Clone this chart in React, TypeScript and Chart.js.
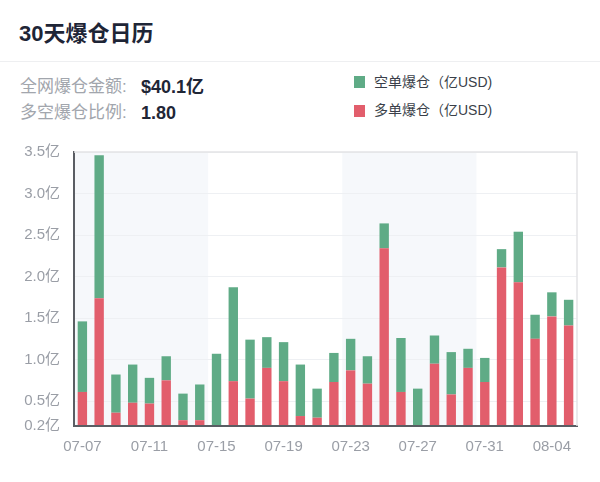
import React, { useEffect, useRef } from 'react';
import { Chart, registerables } from 'chart.js';

Chart.register(...registerables);

const FONT = "'Liberation Sans', 'Noto Sans CJK SC', sans-serif";

const dates = [
  '07-07', '07-08', '07-09', '07-10', '07-11', '07-12', '07-13', '07-14',
  '07-15', '07-16', '07-17', '07-18', '07-19', '07-20', '07-21', '07-22',
  '07-23', '07-24', '07-25', '07-26', '07-27', '07-28', '07-29', '07-30',
  '07-31', '08-01', '08-02', '08-03', '08-04', '08-05',
];

// 多单爆仓 (亿USD) - red, bottom of stack
const longLiq = [
  0.61, 1.74, 0.36, 0.48, 0.47, 0.75, 0.27, 0.27,
  0.1, 0.74, 0.53, 0.90, 0.74, 0.32, 0.30, 0.73,
  0.87, 0.71, 2.34, 0.61, 0.1, 0.95, 0.58, 0.90,
  0.73, 2.11, 1.93, 1.25, 1.52, 1.41,
];

// 空单爆仓 (亿USD) - green, top of stack
const shortLiq = [
  0.85, 1.72, 0.46, 0.46, 0.31, 0.29, 0.32, 0.43,
  0.97, 1.13, 0.71, 0.37, 0.47, 0.62, 0.35, 0.35,
  0.38, 0.33, 0.30, 0.65, 0.55, 0.34, 0.51, 0.23,
  0.29, 0.22, 0.61, 0.29, 0.29, 0.31,
];

const yTicks = [0.2, 0.5, 1.0, 1.5, 2.0, 2.5, 3.0, 3.5];
const shadedRanges: [number, number][] = [[0, 7], [16, 23]];

const GREEN = '#5fab86';
const RED = '#e25e6c';

const frame = {
  id: 'frame',
  beforeDraw(chart: any) {
    const { ctx, chartArea } = chart;
    const x = chart.scales.x;
    const half = (x.getPixelForValue(1) - x.getPixelForValue(0)) / 2;
    ctx.save();
    ctx.fillStyle = '#f6f8fb';
    for (const [a, b] of shadedRanges) {
      const l = x.getPixelForValue(a) - half;
      const r = x.getPixelForValue(b) + half;
      ctx.fillRect(l, chartArea.top, r - l, chartArea.bottom - chartArea.top);
    }
    ctx.restore();
  },
  afterDraw(chart: any) {
    const { ctx, chartArea } = chart;
    ctx.save();
    ctx.strokeStyle = '#e3e4e6';
    ctx.lineWidth = 1.5;
    ctx.beginPath();
    ctx.moveTo(chartArea.left, chartArea.top);
    ctx.lineTo(chartArea.right, chartArea.top);
    ctx.lineTo(chartArea.right, chartArea.bottom);
    ctx.stroke();
    ctx.restore();
  },
};

export default function App() {
  const ref = useRef<HTMLCanvasElement>(null);

  useEffect(() => {
    Chart.defaults.font.family = FONT;
    const chart = new Chart(ref.current!, {
      type: 'bar',
      data: {
        labels: dates,
        datasets: [
          {
            label: '多单爆仓（亿USD)',
            data: longLiq,
            backgroundColor: RED,
            barPercentage: 0.56,
            categoryPercentage: 1,
            clip: 0,
          } as any,
          {
            label: '空单爆仓（亿USD)',
            data: shortLiq,
            backgroundColor: GREEN,
            barPercentage: 0.56,
            categoryPercentage: 1,
            clip: 0,
          } as any,
        ],
      },
      options: {
        responsive: false,
        animation: false,
        layout: { padding: { top: 0, right: 23, bottom: 0, left: 0 } },
        plugins: { legend: { display: false }, tooltip: { enabled: false } },
        scales: {
          x: {
            stacked: true,
            grid: { display: false, drawTicks: false },
            border: { display: true, color: '#5a5d63', width: 2, z: 1 },
            ticks: {
              autoSkip: false,
              maxRotation: 0,
              padding: 12,
              color: '#9a9ea6',
              font: { size: 15 },
              callback: (_v: any, i: number) => (i % 4 === 0 ? dates[i] : ''),
            },
            afterFit: (s: any) => {
              s.height = 44;
            },
          },
          y: {
            stacked: true,
            min: 0.2,
            max: 3.5,
            afterBuildTicks: (s: any) => {
              s.ticks = yTicks.map((v) => ({ value: v }));
            },
            grid: { color: '#eef0f3', lineWidth: 1, drawTicks: false },
            border: { display: true, color: '#5a5d63', width: 2, z: 1 },
            ticks: {
              padding: 14,
              color: '#9a9ea6',
              font: { size: 15 },
              callback: (v: any) => Number(v).toFixed(1) + '亿',
            },
            afterFit: (s: any) => {
              s.width = 74;
            },
          },
        },
      },
      plugins: [frame],
    });
    return () => chart.destroy();
  }, []);

  const labelStyle: React.CSSProperties = {
    position: 'absolute',
    left: 20,
    fontSize: 17,
    lineHeight: '24px',
    color: '#a2a6ad',
    whiteSpace: 'nowrap',
  };
  const valueStyle: React.CSSProperties = {
    position: 'absolute',
    left: 141,
    fontSize: 18,
    lineHeight: '24px',
    fontWeight: 600,
    color: '#1f2636',
    whiteSpace: 'nowrap',
  };
  const legendText: React.CSSProperties = {
    position: 'absolute',
    left: 374,
    fontSize: 14,
    lineHeight: '20px',
    color: '#3a3f49',
    whiteSpace: 'nowrap',
  };

  return (
    <div
      style={{
        position: 'absolute',
        left: 0,
        top: 0,
        width: 600,
        height: 482,
        background: '#fff',
        fontFamily: FONT,
        overflow: 'hidden',
      }}
    >
      <div
        style={{
          position: 'absolute',
          left: 19,
          top: 20,
          fontSize: 22,
          lineHeight: '28px',
          fontWeight: 600,
          color: '#1e2536',
          whiteSpace: 'nowrap',
        }}
      >
        30天爆仓日历
      </div>
      <div style={{ position: 'absolute', left: 0, top: 61, width: 600, height: 1, background: '#eeeff1' }} />
      <div style={{ ...labelStyle, top: 75 }}>全网爆仓金额:</div>
      <div style={{ ...valueStyle, top: 75 }}>$40.1亿</div>
      <div style={{ ...labelStyle, top: 101 }}>多空爆仓比例:</div>
      <div style={{ ...valueStyle, top: 101 }}>1.80</div>

      <div style={{ position: 'absolute', left: 354, top: 76, width: 11, height: 12, background: GREEN }} />
      <div style={{ ...legendText, top: 72 }}>空单爆仓（亿USD)</div>
      <div style={{ position: 'absolute', left: 354, top: 105, width: 11, height: 12, background: RED }} />
      <div style={{ ...legendText, top: 100 }}>多单爆仓（亿USD)</div>

      <canvas ref={ref} width={600} height={341} style={{ position: 'absolute', left: 0, top: 129 }} />
    </div>
  );
}
